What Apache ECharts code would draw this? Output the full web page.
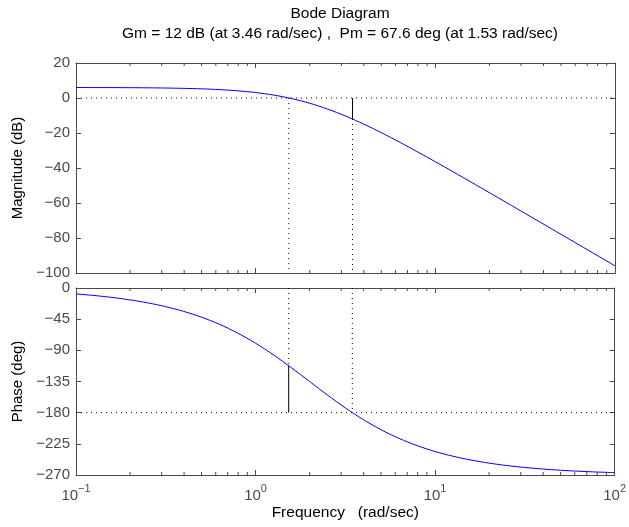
<!DOCTYPE html>
<html>
<head>
<meta charset="utf-8">
<script src="https://cdn.jsdelivr.net/npm/echarts@6/dist/echarts.min.js"></script>
<style>html,body{margin:0;padding:0;background:#fff;}#c{width:629px;height:527px;}</style>
</head>
<body>
<div id="c"></div>
<script>
// ---- data ----
var freq = [0.1, 0.1259, 0.1585, 0.1995, 0.2512, 0.3162, 0.3981, 0.5012, 0.631, 0.7943,
            1, 1.259, 1.585, 1.995, 2.512, 3.162, 3.981, 5.012, 6.31, 7.943,
            10, 12.59, 15.85, 19.95, 25.12, 31.62, 39.81, 50.12, 63.1, 79.43, 100];
var magnitudeDb = [5.99, 5.97, 5.94, 5.89, 5.82, 5.70, 5.51, 5.23, 4.78, 4.11,
                   3.11, 1.67, -0.33, -2.98, -6.32, -10.30, -14.85, -19.84, -25.17, -30.72,
                   -36.43, -42.24, -48.12, -54.05, -60.00, -65.97, -71.95, -77.94, -83.93, -89.93, -95.92];
var phaseDeg = [-8.59, -10.81, -13.59, -17.09, -21.48, -26.95, -33.77, -42.21, -52.53, -64.99,
                -79.70, -96.57, -115.21, -134.78, -154.45, -173.07, -189.99, -204.76, -217.24, -227.60,
                -236.08, -242.92, -248.42, -252.83, -256.35, -259.14, -261.37, -263.15, -264.56, -265.67, -266.56];
var gmDb = 12, gmFreq = 3.46;
var pmDeg = 67.6, pmFreq = 1.53;
var magTicks = [-100, -80, -60, -40, -20, 0, 20];
var phaseTicks = [-270, -225, -180, -135, -90, -45, 0];
var freqMin = 0.1, freqMax = 100;
var minorTickFreqs = [0.2,0.3,0.4,0.5,0.6,0.7,0.8,0.9,2,3,4,5,6,7,8,9,20,30,40,50,60,70,80,90];
var titleLines = ['Bode Diagram', 'Gm = 12 dB (at 3.46 rad/sec) ,  Pm = 67.6 deg (at 1.53 rad/sec)'];
var xAxisTitle = 'Frequency   (rad/sec)';

// ---- chart ----
var FONT = 'Liberation Sans, Arial, Helvetica, sans-serif';
var AX = '#4a4a4a';
var FS = 15;
var chart = echarts.init(document.getElementById('c'), null, {renderer: 'canvas'});

var magMin = magTicks[0], magMax = magTicks[magTicks.length - 1];
var phMin = phaseTicks[0], phMax = phaseTicks[phaseTicks.length - 1];
var magAtGm = -gmDb;
var phaseAtPm = -180 + pmDeg;

function minus(v) { return String(v).replace('-', '\u2212'); }

function xAxisDef(gi, pos, labels) {
  return {
    type: 'log', logBase: 10, gridIndex: gi, position: pos, min: freqMin, max: freqMax,
    axisLine: {show: true, onZero: false, lineStyle: {color: AX, width: 1}},
    axisTick: {show: true, inside: true, length: 5, lineStyle: {color: AX}},
    splitLine: {show: false}, minorTick: {show: false},
    axisLabel: labels ? {
      show: true, margin: 8, color: AX, fontFamily: FONT,
      formatter: function (v) {
        var e = Math.round(Math.log10(v));
        return '{b|10}{s|' + minus(e) + '}';
      },
      rich: {
        b: {fontSize: FS, fontFamily: FONT, color: AX, lineHeight: 20, verticalAlign: 'bottom'},
        s: {fontSize: 11, fontFamily: FONT, color: AX, lineHeight: 20, verticalAlign: 'bottom', padding: [0, 0, 9, 0]}
      }
    } : {show: false},
    name: labels ? xAxisTitle : '',
    nameLocation: 'middle', nameGap: 30,
    nameTextStyle: {color: '#000', fontSize: 15.5, fontFamily: FONT}
  };
}
function yAxisDef(gi, pos, mn, mx, step, labels, name) {
  return {
    type: 'value', gridIndex: gi, position: pos, min: mn, max: mx, interval: step,
    axisLine: {show: true, onZero: false, lineStyle: {color: AX, width: 1}},
    axisTick: {show: true, inside: true, length: 5, lineStyle: {color: AX}},
    splitLine: {show: false},
    axisLabel: labels ? {show: true, margin: 6, color: AX, fontSize: FS, fontFamily: FONT,
      formatter: function (v) { return minus(v); }} : {show: false},
    name: labels ? name : '', nameLocation: 'middle', nameGap: 50,
    nameTextStyle: {color: '#000', fontSize: FS, fontFamily: FONT}
  };
}
function refLine(xi, yi, pts, solid) {
  return {
    type: 'line', xAxisIndex: xi, yAxisIndex: yi, data: pts, symbol: 'none', silent: true,
    lineStyle: {color: '#000', width: 1, type: solid ? 'solid' : [1, 4]}, z: 1, animation: false
  };
}
function minorSeries(xi, yi, ymin, ymax) {
  return {
    type: 'custom', xAxisIndex: xi, yAxisIndex: yi, silent: true, animation: false, clip: false,
    data: minorTickFreqs.map(function (f) { return [f, ymin]; }),
    renderItem: function (params, api) {
      var pb = api.coord([api.value(0), ymin]);
      var pt = api.coord([api.value(0), ymax]);
      var st = {stroke: AX, lineWidth: 1};
      return {type: 'group', children: [
        {type: 'line', shape: {x1: pb[0], y1: pb[1], x2: pb[0], y2: pb[1] - 3}, style: st},
        {type: 'line', shape: {x1: pt[0], y1: pt[1], x2: pt[0], y2: pt[1] + 3}, style: st}
      ]};
    }
  };
}

var option = {
  backgroundColor: '#fff',
  animation: false,
  title: {
    text: titleLines.join('\n'), left: 340, top: 4, padding: 0, textAlign: 'center',
    textStyle: {color: '#000', fontSize: 15.5, fontWeight: 'normal', fontFamily: FONT, lineHeight: 20}
  },
  grid: [
    {left: 76, top: 63, width: 539, height: 210, containLabel: false},
    {left: 76, top: 288, width: 539, height: 187, containLabel: false}
  ],
  xAxis: [
    xAxisDef(0, 'bottom', false), xAxisDef(0, 'top', false),
    xAxisDef(1, 'bottom', true), xAxisDef(1, 'top', false)
  ],
  yAxis: [
    yAxisDef(0, 'left', magMin, magMax, 20, true, 'Magnitude (dB)'),
    yAxisDef(0, 'right', magMin, magMax, 20, false, ''),
    yAxisDef(1, 'left', phMin, phMax, 45, true, 'Phase (deg)'),
    yAxisDef(1, 'right', phMin, phMax, 45, false, '')
  ],
  series: [
    refLine(0, 0, [[freqMin, 0], [freqMax, 0]], false),
    refLine(0, 0, [[pmFreq, 0], [pmFreq, magMin]], false),
    refLine(0, 0, [[gmFreq, magAtGm], [gmFreq, magMin]], false),
    refLine(0, 0, [[gmFreq, 0], [gmFreq, magAtGm]], true),
    refLine(2, 2, [[freqMin, -180], [freqMax, -180]], false),
    refLine(2, 2, [[gmFreq, phMax], [gmFreq, -180]], false),
    refLine(2, 2, [[pmFreq, phMax], [pmFreq, phaseAtPm]], false),
    refLine(2, 2, [[pmFreq, phaseAtPm], [pmFreq, -180]], true),
    {
      type: 'line', xAxisIndex: 0, yAxisIndex: 0, symbol: 'none', smooth: 0.3, z: 3,
      data: freq.map(function (f, i) { return [f, magnitudeDb[i]]; }),
      lineStyle: {color: '#0000ff', width: 1}
    },
    {
      type: 'line', xAxisIndex: 2, yAxisIndex: 2, symbol: 'none', smooth: 0.3, z: 3,
      data: freq.map(function (f, i) { return [f, phaseDeg[i]]; }),
      lineStyle: {color: '#0000ff', width: 1}
    },
    minorSeries(0, 0, magMin, magMax),
    minorSeries(2, 2, phMin, phMax)
  ]
};
chart.setOption(option);
</script>
</body>
</html>
